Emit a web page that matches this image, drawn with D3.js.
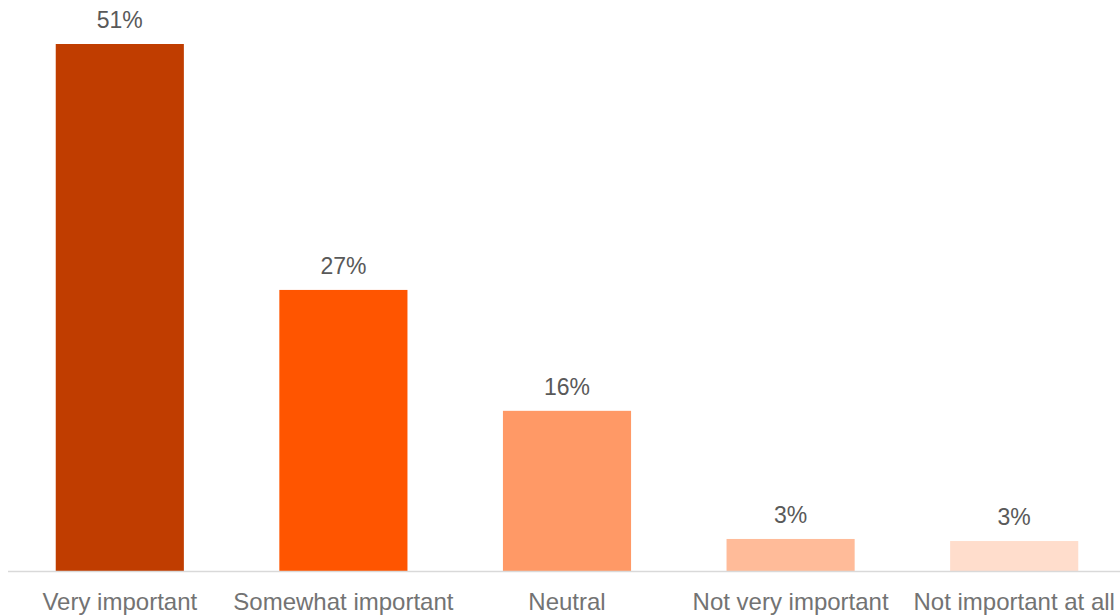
<!DOCTYPE html>
<html>
<head>
<meta charset="utf-8">
<script src="https://cdn.jsdelivr.net/npm/d3@7"></script>
<style>
  html, body { margin: 0; padding: 0; background: #fff; }
  svg text { font-family: "Liberation Sans", Arial, sans-serif; }
</style>
</head>
<body>
<div id="chart"></div>
<script>
// Data
const categories = ["Very important", "Somewhat important", "Neutral", "Not very important", "Not important at all"];
const values = [51, 27.2, 15.5, 3.1, 2.9];
const colors = ["#c03d00", "#ff5500", "#ff9966", "#ffbb99", "#ffddcc"];

const width = 1120;
const height = 616;
const baseline = 571;

const data = categories.map((c, i) => ({ cat: c, value: values[i], color: colors[i] }));

const svg = d3.select("#chart")
    .append("svg")
    .attr("width", width)
    .attr("height", height);

const x = d3.scaleBand()
    .domain(categories)
    .range([8, 1126])
    .paddingInner(0.427)
    .paddingOuter(0.2135);

const y = d3.scaleLinear()
    .domain([0, 51])
    .range([baseline, 44]);

// Bars
svg.append("g")
    .selectAll("rect")
    .data(data)
    .join("rect")
    .attr("x", d => x(d.cat))
    .attr("y", d => y(d.value))
    .attr("width", x.bandwidth())
    .attr("height", d => baseline - y(d.value))
    .attr("fill", d => d.color);

// Axis line
svg.append("line")
    .attr("x1", 8)
    .attr("x2", width)
    .attr("y1", baseline + 0.5)
    .attr("y2", baseline + 0.5)
    .attr("stroke", "#d9d9d9")
    .attr("stroke-width", 1.5);

// Value labels
svg.append("g")
    .selectAll("text")
    .data(data)
    .join("text")
    .attr("x", d => x(d.cat) + x.bandwidth() / 2)
    .attr("y", d => y(d.value) - 16)
    .attr("text-anchor", "middle")
    .attr("fill", "#595959")
    .attr("font-size", "23px")
    .text(d => Math.round(d.value) + "%");

// Category labels
svg.append("g")
    .selectAll("text")
    .data(data)
    .join("text")
    .attr("x", d => x(d.cat) + x.bandwidth() / 2)
    .attr("y", 610)
    .attr("text-anchor", "middle")
    .attr("fill", "#737373")
    .attr("font-size", "24px")
    .text(d => d.cat);
</script>
</body>
</html>
